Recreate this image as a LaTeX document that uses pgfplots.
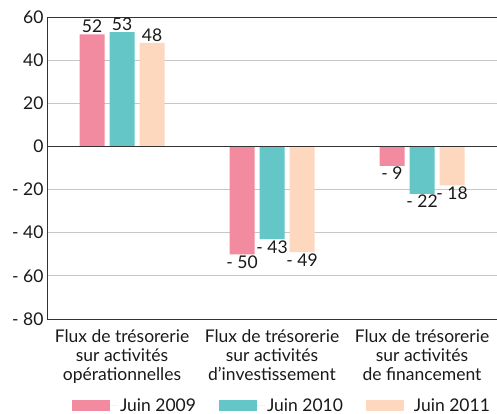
\documentclass[border=0pt]{standalone}
\usepackage{fontspec}
\setmainfont{Lato}
\usepackage{pgfplots}
\pgfplotsset{compat=1.18}
\definecolor{cpink}{RGB}{242,139,160}
\definecolor{cteal}{RGB}{100,198,198}
\definecolor{cpeach}{RGB}{253,216,190}
\begin{document}
\begin{tikzpicture}
\begin{axis}[
  scale only axis, width=450pt, height=302pt,
  xmin=-0.5, xmax=2.5, ymin=-80, ymax=60,
  ybar=5pt, bar width=25pt,
  axis x line*=box, axis y line*=left,
  axis line style={-, black!80, line width=0.8pt},
  xtick={0,1,2},
  xticklabels={{Flux de trésorerie\\sur activités\\opérationnelles},{Flux de trésorerie\\sur activités\\d'investissement},{Flux de trésorerie\\sur activités\\de financement}},
  xticklabel style={align=center, font=\fontsize{17.5}{19}\selectfont, text=black!90, yshift=-7pt},
  ytick={-80,-60,-40,-20,0,20,40,60},
  yticklabels={- 80,- 60,- 40,- 20,0,20,40,60},
  yticklabel style={font=\fontsize{17.5}{18}\selectfont, text=black!90},
  ymajorgrids, grid style={black!22, line width=0.8pt},
  major tick length=0pt,
  /pgf/number format/assume math mode=true,
  nodes near coords, point meta=explicit symbolic,
  visualization depends on={rawy \as \rawy},
  every node near coord/.append style={font=\fontsize{17.5}{18}\selectfont, inner sep=1pt, text=black!90,
    anchor=\ifdim\rawy pt<0pt north\else south\fi},
  legend style={draw=none, legend columns=3, at={(0.5,-0.25)}, anchor=north, xshift=10pt,
    font=\fontsize{17.5}{18}\selectfont, text=black!90,
    /tikz/every even column/.append style={column sep=21pt}},
  legend image code/.code={\fill[#1] (0pt,-5.5pt) rectangle (38pt,5.5pt);
    \path (0pt,0pt) -- (46pt,0pt);},
]
\addplot[fill=cpink, draw=none] coordinates {(0,52) [52] (1,-50) [- 50] (2,-9) [- 9]};
\addplot[fill=cteal, draw=none] coordinates {(0,53) [53] (1,-43) [- 43] (2,-22) [- 22]};
\addplot[fill=cpeach, draw=none] coordinates {(0,48) [48] (1,-49) [- 49] (2,-18) [- 18]};
\legend{Juin 2009, Juin 2010, Juin 2011}
\draw[black!80, line width=0.8pt] (axis cs:-0.5,0) -- (axis cs:2.5,0);
\end{axis}
\pgfresetboundingbox
\path (-47pt,-95pt) rectangle (450pt,319pt);
\end{tikzpicture}
\end{document}
